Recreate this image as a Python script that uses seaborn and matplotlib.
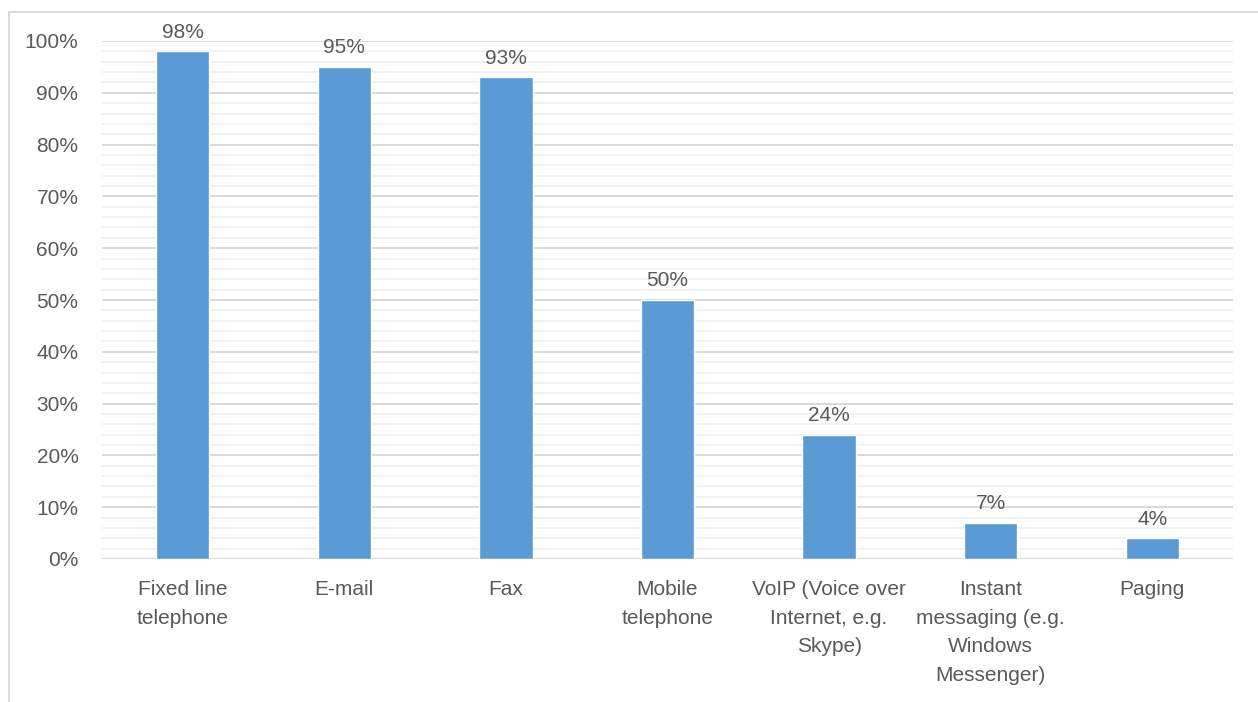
import matplotlib
matplotlib.use("Agg")
import matplotlib.pyplot as plt
from matplotlib.lines import Line2D
from matplotlib.ticker import MultipleLocator, PercentFormatter
import pandas as pd
import seaborn as sns

CATEGORIES = [
    "Fixed line\ntelephone",
    "E-mail",
    "Fax",
    "Mobile\ntelephone",
    "VoIP (Voice over\nInternet, e.g.\nSkype)",
    "Instant\nmessaging (e.g.\nWindows\nMessenger)",
    "Paging",
]
SHARES = [98, 95, 93, 50, 24, 7, 4]

BAR = "#5B9BD5"
TEXT = "#595959"

sns.set_theme(style="white")
plt.rcParams["font.family"] = ["Liberation Sans", "DejaVu Sans"]

df = pd.DataFrame({"channel": CATEGORIES, "share": SHARES})

fig = plt.figure(figsize=(12.58, 7.02), dpi=100)
ax = fig.add_axes([102 / 1258, 1 - 559 / 702, (1233 - 102) / 1258, (559 - 41) / 702])

sns.barplot(data=df, x="channel", y="share", color=BAR, width=0.33,
            saturation=1, ax=ax, zorder=3)

ax.set_xlim(-0.5, len(CATEGORIES) - 0.5)
ax.set_ylim(0, 100)
ax.yaxis.set_major_locator(MultipleLocator(10))
ax.yaxis.set_minor_locator(MultipleLocator(2))
ax.yaxis.set_major_formatter(PercentFormatter(decimals=0))
ax.grid(axis="y", which="major", color="#D9D9D9", linewidth=1.4, zorder=0)
ax.grid(axis="y", which="minor", color="#F2F2F2", linewidth=1.4, zorder=0)
ax.set_axisbelow(True)
for s in ax.spines.values():
    s.set_visible(False)
ax.axhline(0, color="#D9D9D9", linewidth=1.6, zorder=2)

ax.set_xlabel("")
ax.set_ylabel("")
ax.tick_params(axis="both", which="both", length=0, colors=TEXT, labelsize=15)
ax.tick_params(axis="x", pad=15)
ax.tick_params(axis="y", pad=17)
for lab in ax.get_xticklabels():
    lab.set_linespacing(1.65)
for lab in ax.get_yticklabels():
    lab.set_horizontalalignment("right")

for cont in ax.containers:
    ax.bar_label(cont, labels=[f"{v}%" for v in SHARES], padding=7,
                 fontsize=15, color=TEXT)

# chart frame edge (cropped)
fig.add_artist(Line2D([9 / 1258, 1], [1 - 12 / 702] * 2, color="#D9D9D9",
                      linewidth=1.3, transform=fig.transFigure))
fig.add_artist(Line2D([9 / 1258] * 2, [0, 1 - 12 / 702], color="#D9D9D9",
                      linewidth=1.3, transform=fig.transFigure))

fig.savefig("out.png", dpi=100)
